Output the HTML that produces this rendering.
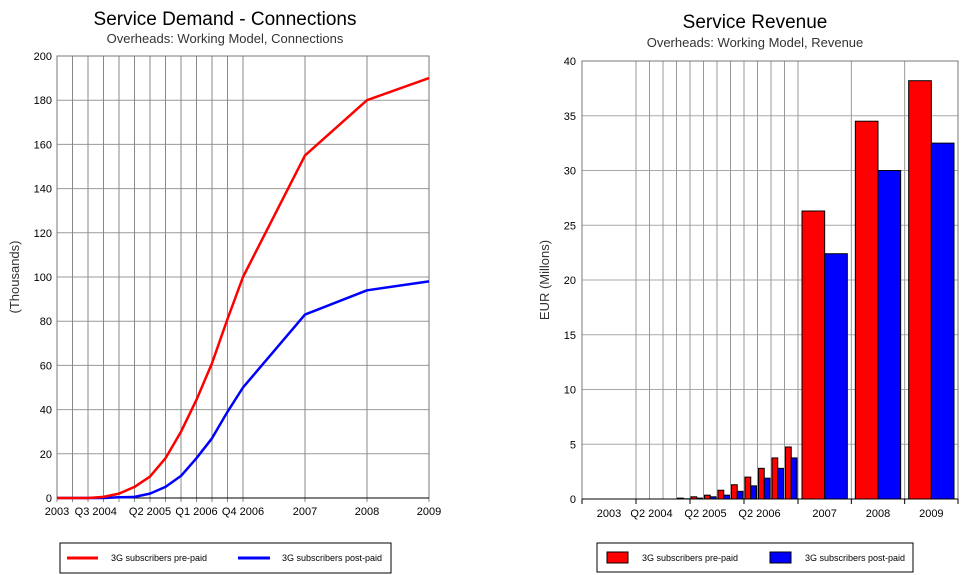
<!DOCTYPE html>
<html><head><meta charset="utf-8"><style>
html,body{margin:0;padding:0;background:#fff;}
svg{display:block;font-family:"Liberation Sans",Arial,sans-serif;}
</style></head><body>
<svg id="s" width="963" height="575" viewBox="0 0 963 575">
<text x="225" y="25" font-size="19" text-anchor="middle">Service Demand - Connections</text>
<text x="225" y="43" font-size="13" fill="#333" text-anchor="middle">Overheads: Working Model, Connections</text>
<text transform="translate(19,277) rotate(-90)" font-size="13" fill="#333" text-anchor="middle">(Thousands)</text>
<text x="755" y="28" font-size="19" text-anchor="middle">Service Revenue</text>
<text x="755" y="47" font-size="13" fill="#333" text-anchor="middle">Overheads: Working Model, Revenue</text>
<text transform="translate(549,280) rotate(-90)" font-size="13" fill="#333" text-anchor="middle">EUR  (Millons)</text>
<g id="L"></g><g id="R"></g>
<g>
<rect x="60" y="543" width="331" height="30" fill="#fff" stroke="#000"/>
<line x1="67" y1="558" x2="98" y2="558" stroke="#f00" stroke-width="3"/>
<text x="111" y="561" font-size="9">3G subscribers pre-paid</text>
<line x1="238" y1="558" x2="270" y2="558" stroke="#00f" stroke-width="3"/>
<text x="282" y="561" font-size="9">3G subscribers post-paid</text>
</g>
<g>
<rect x="597" y="543" width="316" height="29" fill="#fff" stroke="#000"/>
<rect x="607" y="552" width="21" height="11" fill="#f00" stroke="#000"/>
<text x="642" y="561" font-size="9">3G subscribers pre-paid</text>
<rect x="770" y="552" width="21" height="11" fill="#00f" stroke="#000"/>
<text x="805" y="561" font-size="9">3G subscribers post-paid</text>
</g>
</svg>
<script>
// Left chart data
const connPeriods = ["2003 Q1","2003 Q2","2003 Q3","2003 Q4","2004 Q1","2004 Q2","2004 Q3","2004 Q4","2005 Q1","2005 Q2","2005 Q3","2005 Q4","2006 Q1","2007","2008","2009"];
const connPrepaid = [0,0,0,0.5,2,5,9.7,18,30,44.5,61,81,100,155,180,190];
const connPostpaid = [0,0,0,0,0.3,0.5,2,5,10,18,27,39,50,83,94,98];
const connYTicks = [0,20,40,60,80,100,120,140,160,180,200];
const connXLabels = [["2003",0],["Q3 2004",2.5],["Q2 2005",6],["Q1 2006",9],["Q4 2006",12],["2007",13],["2008",14],["2009",15]];
// Right chart data
const revCats = ["2003","2004 Q1","2004 Q2","2004 Q3","2004 Q4","2005 Q1","2005 Q2","2005 Q3","2005 Q4","2006 Q1","2006 Q2","2006 Q3","2006 Q4","2007","2008","2009"];
const revPrepaid = [0,0,0,0,0.08,0.2,0.35,0.8,1.3,2.0,2.8,3.75,4.75,26.3,34.5,38.2];
const revPostpaid = [0,0,0,0,0.02,0.08,0.2,0.35,0.7,1.2,1.9,2.8,3.75,22.4,30,32.5];
const revYTicks = [0,5,10,15,20,25,30,35,40];
const revXLabels = ["2003","Q2 2004","Q2 2005","Q2 2006","2007","2008","2009"];

const NS="http://www.w3.org/2000/svg";
function mk(parent,tag,attrs,txt){const e=document.createElementNS(NS,tag);for(const k in attrs)e.setAttribute(k,attrs[k]);if(txt!==undefined)e.textContent=txt;parent.appendChild(e);return e;}

// LEFT
const L=document.getElementById('L');
const lx0=57,lx1=429,ly0=498,ly1=56;
function lxPos(i){ if(i<=12) return lx0+i*(243-lx0)/12; return 243+(i-12)*(lx1-243)/3; }
function ly(v){ return ly0-(v/200)*(ly0-ly1); }
connYTicks.forEach(t=>{
  const g=mk(L,'line',{x1:lx0,x2:lx1,y1:ly(t),y2:ly(t),stroke:'#999'});
  
  
  const tx=mk(L,'text',{x:lx0-5,y:ly(t)+4,'font-size':11,'text-anchor':'end'},t);
  
  
});
for(let i=0;i<connPeriods.length;i++){
  const x=lxPos(i);
  const g=mk(L,'line',{x1:x,x2:x,y1:ly1,y2:ly0+4,stroke:'#888'});
  
  
}
mk(L,'rect',{x:lx0,y:ly1,width:lx1-lx0,height:ly0-ly1,fill:'none',stroke:'#777'});
mk(L,'line',{x1:lx0,x2:lx1,y1:ly0,y2:ly0,stroke:'#000'});
connXLabels.forEach(([lab,i])=>{
  const tx=mk(L,'text',{x:lxPos(i),y:ly0+17,'font-size':11,'text-anchor':'middle'},lab);
  
  
});
function linePts(arr){return arr.map((v,i)=>lxPos(i).toFixed(1)+','+ly(v).toFixed(1)).join(' ');}
const bl=mk(L,'polyline',{points:linePts(connPostpaid),fill:'none',stroke:'#00f','stroke-width':2.5,'stroke-linejoin':'round'});


const rl=mk(L,'polyline',{points:linePts(connPrepaid),fill:'none',stroke:'#f00','stroke-width':2.5,'stroke-linejoin':'round'});



// RIGHT
const R=document.getElementById('R');
const rx0=582,rx1=958,ry0=499,ry1=61;
const qW=(798-636)/12, yW=(rx1-798)/3;
function catStart(i){ if(i===0) return rx0; if(i<=12) return 636+(i-1)*qW; return 798+(i-13)*yW; }
function catWidth(i){ if(i===0) return 636-rx0; if(i<=12) return qW; return yW; }
function ry(v){ return ry0-(v/40)*(ry0-ry1); }
revYTicks.forEach(t=>{
  const g=mk(R,'line',{x1:rx0,x2:rx1,y1:ry(t),y2:ry(t),stroke:'#aaa'});
  
  
  const tx=mk(R,'text',{x:rx0-6,y:ry(t)+4,'font-size':11,'text-anchor':'end'},t);
  
  
});
for(let i=1;i<=revCats.length;i++){
  const x=i<revCats.length?catStart(i):rx1;
  const g=mk(R,'line',{x1:x,x2:x,y1:ry1,y2:ry0,stroke:'#999'});
  
  
}
mk(R,'rect',{x:rx0,y:ry1,width:rx1-rx0,height:ry0-ry1,fill:'none',stroke:'#777'});
[0,1,5,9,13,14,15,16].forEach(i=>{const x=i<16?catStart(i):rx1;mk(R,'line',{x1:x,x2:x,y1:ry0,y2:ry0+5,stroke:'#000'});});
mk(R,'line',{x1:rx0,x2:rx1,y1:ry0,y2:ry0,stroke:'#000'});
const labPos=[catStart(0)+catWidth(0)/2,catStart(2)+2,catStart(6)+2,catStart(10)+2,catStart(13)+yW/2,catStart(14)+yW/2,catStart(15)+yW/2];
revXLabels.forEach((lab,k)=>{
  const tx=mk(R,'text',{x:labPos[k],y:ry0+18,'font-size':11,'text-anchor':'middle'},lab);
  
  
});
for(let i=0;i<revCats.length;i++){
  const w=catWidth(i), pad=w*0.075, bw=(w-2*pad)/2, s=catStart(i)+pad;
  if(revPrepaid[i]>0){
    const b=mk(R,'rect',{x:s,y:ry(revPrepaid[i]),width:bw,height:ry0-ry(revPrepaid[i]),fill:'#f00',stroke:'#000','stroke-width':1});
    
    
  }
  if(revPostpaid[i]>0){
    const b=mk(R,'rect',{x:s+bw,y:ry(revPostpaid[i]),width:bw,height:ry0-ry(revPostpaid[i]),fill:'#00f',stroke:'#000','stroke-width':1});
    
    
  }
}
</script>
</body></html>
